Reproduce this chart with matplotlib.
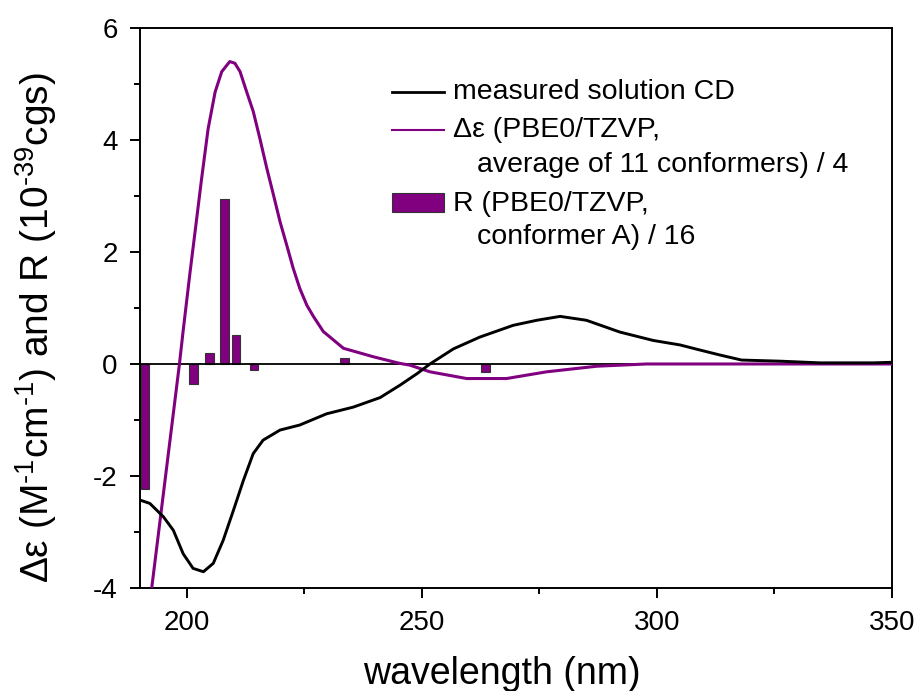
"""CD spectrum: measured solution CD vs. PBE0/TZVP computed spectrum and rotatory strengths."""

import matplotlib

matplotlib.use("Agg")
import matplotlib.pyplot as plt
from matplotlib.patches import Rectangle

PURPLE = "#800080"

# measured solution CD (nm, delta eps)
meas_nm = [190, 192.1, 195, 197.1, 199.2, 201.3, 203.5, 205.6, 207.7, 209.9, 212, 214.1,
           216.2, 219.8, 224, 229.7, 235.4, 241.1, 245.3, 249, 251.7, 256.7, 262.3, 269.4,
           274.4, 279.4, 285, 292.1, 299.2, 304.9, 309.1, 313.4, 318, 326.2, 334.7, 346, 350]
meas_de = [-2.43, -2.49, -2.73, -2.97, -3.39, -3.65, -3.71, -3.56, -3.15, -2.61, -2.08, -1.6,
           -1.36, -1.18, -1.09, -0.89, -0.77, -0.6, -0.38, -0.17, 0.0, 0.27, 0.48, 0.69,
           0.78, 0.85, 0.78, 0.57, 0.42, 0.34, 0.25, 0.16, 0.07, 0.05, 0.02, 0.02, 0.03]

# computed delta eps, averaged over 11 conformers, divided by 4
calc_nm = [191.9, 192.5, 198.4, 199.2, 200.6, 202.0, 203.1, 204.5, 206.0, 207.4, 209.1,
           210.2, 211.3, 212.7, 214.1, 215.5, 217.0, 218.4, 219.8, 221.2, 222.6, 224.0, 225.5,
           226.9, 229.0, 233.3, 239.6, 245.3, 247.4, 251.7, 259.5, 268, 276.5, 287.2, 297.8,
           320, 350]
calc_de = [-4.4, -4.0, 0.0, 0.6, 1.6, 2.55, 3.3, 4.2, 4.86, 5.22, 5.4,
           5.37, 5.22, 4.86, 4.51, 4.03, 3.49, 3.02, 2.54, 2.13, 1.71, 1.35, 1.05,
           0.85, 0.58, 0.28, 0.13, 0.01, -0.02, -0.14, -0.26, -0.26, -0.14, -0.04, 0.0,
           0.0, 0.0]

# rotatory strengths of conformer A, divided by 16
stick_nm = [191.1, 201.4, 204.8, 208.0, 210.4, 214.2, 233.5, 263.5]
stick_r = [-2.24, -0.36, 0.2, 2.94, 0.51, -0.1, 0.11, -0.15]

plt.rcParams["font.family"] = ["Liberation Sans", "DejaVu Sans"]
plt.rcParams["mathtext.fontset"] = "custom"
plt.rcParams["mathtext.rm"] = "Liberation Sans"
plt.rcParams["mathtext.it"] = "Liberation Sans:italic"
plt.rcParams["axes.unicode_minus"] = False

fig = plt.figure(figsize=(9.19, 6.91), dpi=100)
ax = fig.add_axes([0.1523, 0.1491, 0.8183, 0.8104])

ax.bar(stick_nm, stick_r, width=1.75, color=PURPLE, edgecolor="#333333", linewidth=0.8, zorder=2)
ax.axhline(0, color="black", lw=1.3, zorder=3)
ax.plot(calc_nm, calc_de, color=PURPLE, lw=2.2, zorder=4)
ax.plot(meas_nm, meas_de, color="black", lw=2.1, zorder=5)

ax.set_xlim(190, 350)
ax.set_ylim(-4, 6)
ax.set_xticks([200, 250, 300, 350])
ax.set_xticks([225, 275, 325], minor=True)
ax.set_yticks([-4, -2, 0, 2, 4, 6])
ax.set_yticks([-3, -1, 1, 3, 5], minor=True)
ax.tick_params(which="major", direction="out", length=7, width=1.4, labelsize=20, pad=9)
ax.tick_params(which="minor", direction="out", length=4, width=1.4)
for s in ax.spines.values():
    s.set_linewidth(1.4)

ax.set_xlabel("wavelength (nm)", fontsize=27, va="baseline")
ax.xaxis.set_label_coords(0.4814, -0.1714)
ax.set_ylabel(r"Δε (M$^{\text{-1}}$cm$^{\text{-1}}$) and R (10$^{\text{-39}}$cgs)",
              fontsize=28, va="center")
ax.yaxis.set_label_coords(-0.138, 0.464)

# legend drawn by hand so the handles sit on the first line of each label
tr = ax.transAxes
ax.plot([0.3347, 0.4047], [0.8852, 0.8852], color="black", lw=2.0, transform=tr, clip_on=False)
ax.plot([0.3347, 0.4047], [0.8179, 0.8179], color=PURPLE, lw=1.5, transform=tr, clip_on=False)
ax.add_patch(Rectangle((0.3347, 0.6720), 0.07, 0.0339, facecolor=PURPLE, edgecolor="#333333",
                       lw=0.8, transform=tr, clip_on=False))
lab = dict(fontsize=20.5, va="baseline", ha="left", transform=tr)
ax.text(0.4162, 0.8732, "measured solution CD", **lab)
ax.text(0.4162, 0.8048, "Δε (PBE0/TZVP,", **lab)
ax.text(0.4477, 0.7423, "average of 11 conformers) / 4", **lab)
ax.text(0.4162, 0.6732, "R (PBE0/TZVP,", **lab)
ax.text(0.4477, 0.6138, "conformer A) / 16", **lab)

fig.savefig("out.png", dpi=100)
